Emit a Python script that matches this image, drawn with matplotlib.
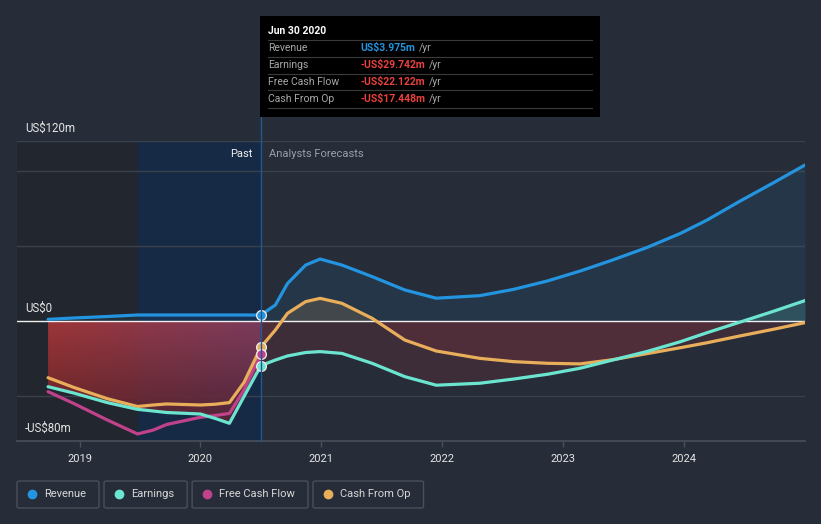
import numpy as np
import matplotlib
matplotlib.use("Agg")
import matplotlib.pyplot as plt
from matplotlib.patches import FancyBboxPatch, Rectangle
from matplotlib.lines import Line2D

plt.rcParams['font.family'] = ['Roboto', 'DejaVu Sans']

# ---- data (US$m, decimal years) ----
past_years = [2018.74, 2018.95, 2019.23, 2019.48, 2019.61, 2019.72, 2020.0, 2020.12, 2020.24, 2020.36, 2020.5]
revenue_past = [1.1, 2.0, 3.0, 4.0, 4.0, 4.0, 4.0, 4.0, 4.0, 4.0, 3.975]
earnings_past = [-43.8, -48.0, -54.4, -58.9, -60.0, -61.0, -62.0, -64.9, -68.2, -50.4, -29.742]
fcf_past = [-47.1, -54.9, -66.0, -75.3, -72.7, -69.0, -64.2, -63.0, -61.6, -46.0, -22.122]
cfo_past = [-37.8, -44.2, -51.8, -57.0, -56.0, -55.3, -56.0, -55.5, -54.4, -41.0, -17.448]

fc_years = [2020.5, 2020.62, 2020.72, 2020.87, 2020.99, 2021.17, 2021.42, 2021.69, 2021.95,
            2022.31, 2022.59, 2022.87, 2023.14, 2023.41, 2023.69, 2023.97, 2024.19, 2024.46,
            2024.74, 2025.0]
revenue_fc = [3.975, 10.7, 25.0, 37.3, 41.3, 37.3, 29.6, 20.7, 15.2, 16.9, 21.1, 26.7, 33.3,
              40.7, 48.9, 58.4, 67.3, 79.8, 92.2, 104.0]
earnings_fc = [-29.742, -26.0, -23.3, -21.0, -20.4, -21.6, -28.2, -37.1, -42.8, -41.5, -38.7,
               -35.5, -31.5, -26.0, -20.4, -13.8, -7.8, -0.8, 6.5, 13.6]
cfo_fc = [-17.448, -6.0, 5.1, 12.9, 15.1, 11.8, 1.8, -12.7, -20.0, -24.9, -27.1, -28.2, -28.6,
          -25.8, -21.8, -17.8, -14.5, -10.0, -5.5, -1.1]

series_names = ['Revenue', 'Earnings', 'Free Cash Flow', 'Cash From Op']
series_colors = ['#2394df', '#6ce5d0', '#c0428a', '#e9ae5a']
tooltip_values = ['US$3.975m', '-US$29.742m', '-US$22.122m', '-US$17.448m']
year_ticks = [2019, 2020, 2021, 2022, 2023, 2024]
y_labels = {120: 'US$120m', 0: 'US$0', -80: '-US$80m'}

bg = '#262c38'
W, H = 821, 524


def fx(px):
    return px / W


def fy(py):
    return 1 - py / H


fig = plt.figure(figsize=(W / 100, H / 100), dpi=100, facecolor=bg)
ax = fig.add_axes([fx(17), fy(441), fx(805) - fx(17), fy(141) - fy(441)])
ax.set_facecolor(bg)
x0 = 2019 + (17 - 79.5) / 120.9
ax.set_xlim(x0, 2025.0)
ax.set_ylim(-80, 120)

# past shading
ax.axvspan(x0, 2019.48, color='#21262f', zorder=0, lw=0)
ax.axvspan(2019.48, 2020.5, color='#172a45', zorder=0, lw=0)

# grid
for v in [120, 100, 50, -50]:
    ax.axhline(v, color='#3b414c', lw=1, zorder=1)

all_years = np.array(past_years + fc_years[1:])
rev_all = np.array(revenue_past + revenue_fc[1:])
earn_all = np.array(earnings_past + earnings_fc[1:])
cfo_all = np.array(cfo_past + cfo_fc[1:])

# revenue area
ax.fill_between(all_years, rev_all, 0, color=series_colors[0], alpha=0.1, lw=0, zorder=2)

# past red gradient area down to earnings
poly = ax.fill_between(past_years, earnings_past, 0, color='none', lw=0, zorder=2)
gx = np.linspace(0, 1, 120)[None, :]
gy = np.linspace(0, 1, 80)[:, None]  # 0 top, 1 bottom
left = np.array([0.66, 0.22, 0.23])
right = np.array([0.52, 0.24, 0.37])
top_col = left[None, None, :] * (1 - gx[..., None]) + right[None, None, :] * gx[..., None]
shade = 1 - 0.45 * gy[..., None]
img = np.clip(top_col * shade, 0, 1)
im = ax.imshow(img, extent=[past_years[0], past_years[-1], -80, 0], aspect='auto',
               origin='upper', zorder=2, alpha=0.92)
im.set_clip_path(poly.get_paths()[0], transform=ax.transData)

# forecast areas
fe = np.array(earnings_fc)
fc = np.array(cfo_fc)
ax.fill_between(fc_years, fe, 0, where=fe <= 0, interpolate=True, color='#c83a44', alpha=0.14, lw=0, zorder=2)
ax.fill_between(fc_years, fe, 0, where=fe >= 0, interpolate=True, color=series_colors[1], alpha=0.15, lw=0, zorder=2)
ax.fill_between(fc_years, fc, 0, where=fc <= 0, interpolate=True, color='#c83a44', alpha=0.14, lw=0, zorder=2)
ax.fill_between(fc_years, fc, 0, where=fc >= 0, interpolate=True, color=series_colors[3], alpha=0.15, lw=0, zorder=2)

# zero line
ax.axhline(0, color='#f0f0f0', lw=1, zorder=3)

# lines
lw = 2.3
ax.plot(past_years, fcf_past, color=series_colors[2], lw=lw, zorder=4, solid_capstyle='round')
ax.plot(all_years, cfo_all, color=series_colors[3], lw=lw, zorder=4, solid_capstyle='round')
ax.plot(all_years, earn_all, color=series_colors[1], lw=lw, zorder=4, solid_capstyle='round')
ax.plot(all_years, rev_all, color=series_colors[0], lw=lw, zorder=5, solid_capstyle='round')

# end-of-past markers
for val, col in [(cfo_past[-1], series_colors[3]), (fcf_past[-1], series_colors[2]),
                 (earnings_past[-1], series_colors[1]), (revenue_past[-1], series_colors[0])]:
    ax.plot([past_years[-1]], [val], 'o', ms=7, color=col, mec='#e8e8e8', mew=1, zorder=6)

# axes styling
for s in ['top', 'right', 'left']:
    ax.spines[s].set_visible(False)
ax.spines['bottom'].set_color('#4a505a')
ax.spines['bottom'].set_linewidth(1.2)
ax.set_yticks([])
ax.set_xticks(year_ticks)
ax.set_xticklabels([str(y) for y in year_ticks])
ax.tick_params(axis='x', colors='#4a505a', labelcolor='#e6e6e6', length=4, width=1,
               labelsize=8, pad=5)

# y labels
for v, lab in y_labels.items():
    ax.text(x0 + 8 / 120.9, v + 4.2, lab, color='#e6e6e6', fontsize=8.3,
            va='bottom', ha='left', zorder=7)

# Past / Forecast labels
ax.text(2020.5 - 8 / 120.9, 111.5, 'Past', color='#f0f0f0', fontsize=8, ha='right', va='center', zorder=7)
ax.text(2020.5 + 8 / 120.9, 111.5, 'Analysts Forecasts', color='#9aa0a8', fontsize=8, ha='left',
        va='center', zorder=7)

# vertical marker line
fig.add_artist(Line2D([fx(260.5)] * 2, [fy(117), fy(441)], color='#1f5a96', lw=1, zorder=3))

# tooltip
fig.add_artist(Rectangle((fx(260), fy(117)), fx(600) - fx(260), fy(16) - fy(117),
                         transform=fig.transFigure, facecolor='black', edgecolor='none', zorder=8))
fig.text(fx(268), fy(31), 'Jun 30 2020', color='white', fontsize=7.5, fontweight='bold',
         va='center', ha='left', zorder=9)
for i, (name, val) in enumerate(zip(series_names, tooltip_values)):
    yy = 48 + 17 * i
    fig.add_artist(Line2D([fx(268), fx(592)], [fy(yy - 8.5)] * 2, color='#3a3a3a', lw=0.8, zorder=9))
    fig.text(fx(268), fy(yy), name, color='#a8a8a8', fontsize=7.5, va='center', ha='left', zorder=9)
    vcol = series_colors[0] if not val.startswith('-') else '#e8423f'
    t = fig.text(fx(360), fy(yy), val, color=vcol, fontsize=7.5, fontweight='bold',
                 va='center', ha='left', zorder=9)
    fig.canvas.draw()
    bb = t.get_window_extent()
    fig.text(bb.x1 / W + fx(4), fy(yy), '/yr', color='#a8a8a8', fontsize=7.5, va='center',
             ha='left', zorder=9)
fig.add_artist(Line2D([fx(268), fx(592)], [fy(108.5)] * 2, color='#3a3a3a', lw=0.8, zorder=9))

# legend boxes
fig.canvas.draw()
renderer = fig.canvas.get_renderer()
xpos = 17
for name, col in zip(series_names, series_colors):
    t = fig.text(fx(xpos + 27), fy(494), name, color='#d8d8d8', fontsize=8, va='center',
                 ha='left', zorder=9)
    tw = t.get_window_extent(renderer).width
    bw = 27 + tw + 13
    fig.add_artist(FancyBboxPatch((fx(xpos), fy(508)), fx(bw), fy(481) - fy(508),
                                  boxstyle='round,pad=0,rounding_size=0.003',
                                  transform=fig.transFigure, facecolor='none',
                                  edgecolor='#4a505a', lw=1, zorder=8))
    fig.add_artist(Line2D([fx(xpos + 15)], [fy(494)], marker='o', ms=6, color=col, lw=0, zorder=9))
    xpos += bw + 5

fig.savefig('out.png', dpi=100, facecolor=bg)
